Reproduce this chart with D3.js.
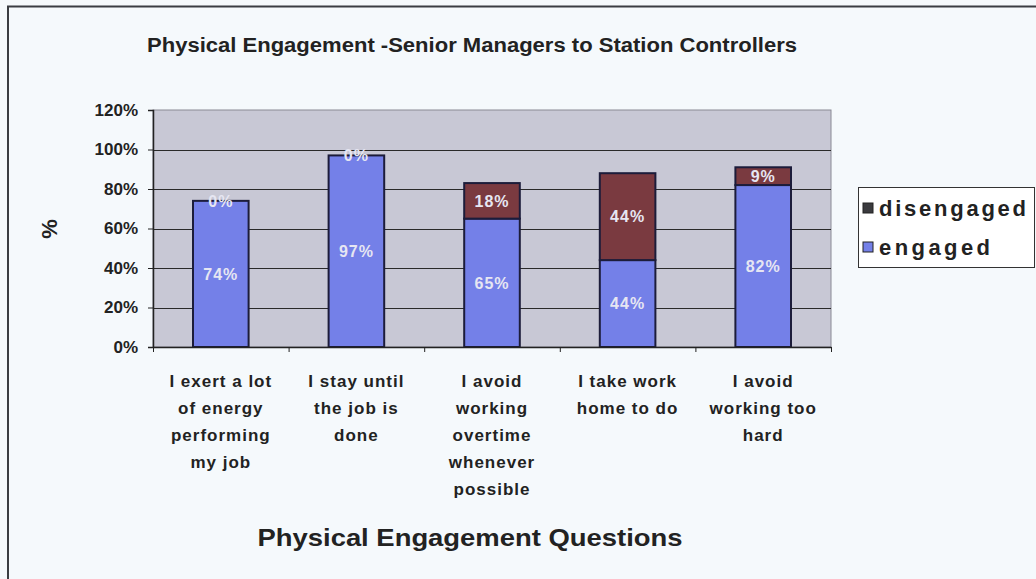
<!DOCTYPE html>
<html>
<head>
<meta charset="utf-8">
<script src="https://cdn.jsdelivr.net/npm/d3@7/dist/d3.min.js"></script>
<style>
  body { margin: 0; background: #f5f9fc; }
  svg { display: block; font-family: "Liberation Sans", Arial, sans-serif; }
</style>
</head>
<body>
<svg id="chart" width="1036" height="579"></svg>
<script>
// Survey questions (line breaks mark wrapped axis labels)
const categories = [
  "I exert a lot\nof energy\nperforming\nmy job",
  "I stay until\nthe job is\ndone",
  "I avoid\nworking\novertime\nwhenever\npossible",
  "I take work\nhome to do",
  "I avoid\nworking too\nhard"
];
const engaged    = [74, 97, 65, 44, 82];
const disengaged = [0, 0, 18, 44, 9];
const yTicks     = [0, 20, 40, 60, 80, 100, 120];
const seriesKeys = ["engaged", "disengaged"];
const legendOrder = ["disengaged", "engaged"];

const colors = { engaged: "#7480e8", disengaged: "#7a3a40" };

const svg = d3.select("#chart");
const W = 1036, H = 579;
const plot = { left: 153, right: 831, top: 110, bottom: 347 };

// Outer chart frame
svg.append("rect").attr("x", 0).attr("y", 0).attr("width", W).attr("height", H).attr("fill", "#f5f9fc");
svg.append("path")
  .attr("d", `M8,${H} L8,6.5 L${W},6.5`)
  .attr("fill", "none").attr("stroke", "#3a3d42").attr("stroke-width", 2);

const rows = categories.map((c, i) => ({ cat: c, engaged: engaged[i], disengaged: disengaged[i] }));

const x = d3.scaleBand().domain(categories).range([plot.left, plot.right])
  .paddingInner(0.59).paddingOuter(0.295);
const y = d3.scaleLinear().domain([0, 120]).range([plot.bottom, plot.top]);

// Plot background
svg.append("rect")
  .attr("x", plot.left).attr("y", plot.top)
  .attr("width", plot.right - plot.left).attr("height", plot.bottom - plot.top)
  .attr("fill", "#c8c8d5").attr("stroke", "#8a8a94").attr("stroke-width", 1);

// Horizontal gridlines
svg.append("g").selectAll("line").data(yTicks.filter(d => d > 0 && d < 120)).join("line")
  .attr("x1", plot.left).attr("x2", plot.right)
  .attr("y1", d => Math.round(y(d)) + 0.5).attr("y2", d => Math.round(y(d)) + 0.5)
  .attr("stroke", "#2a2a2a").attr("stroke-width", 1);

// Stacked bars
const stacked = d3.stack().keys(seriesKeys)(rows);
const layers = svg.append("g").selectAll("g").data(stacked).join("g")
  .attr("fill", d => colors[d.key]);
layers.selectAll("rect").data(d => d.filter(s => s[1] - s[0] > 0)).join("rect")
  .attr("x", d => x(d.data.cat))
  .attr("width", x.bandwidth())
  .attr("y", d => y(d[1]))
  .attr("height", d => y(d[0]) - y(d[1]))
  .attr("stroke", "#1c1c3a").attr("stroke-width", 2);

// Segment value labels
const labels = svg.append("g")
  .attr("font-size", 16).attr("font-weight", "bold").attr("fill", "#e6e6f2")
  .attr("text-anchor", "middle");
stacked.forEach(layer => {
  layer.forEach((s, i) => {
    const v = layer.key === "engaged" ? engaged[i] : disengaged[i];
    labels.append("text")
      .attr("x", x(s.data.cat) + x.bandwidth() / 2)
      .attr("y", y((s[0] + s[1]) / 2))
      .attr("dy", "0.36em")
      .attr("letter-spacing", 1)
      .text(v + "%");
  });
});

// Y axis
const yAxis = svg.append("g")
  .attr("transform", `translate(${plot.left},0)`)
  .call(d3.axisLeft(y).tickValues(yTicks).tickFormat(d => d + "%").tickSize(5).tickPadding(10));
yAxis.select(".domain").attr("stroke", "#222").attr("stroke-width", 1.5);
yAxis.selectAll(".tick line").attr("stroke", "#222");
yAxis.selectAll(".tick text")
  .attr("font-family", "Liberation Sans, Arial, sans-serif")
  .attr("font-size", 17).attr("font-weight", "bold").attr("fill", "#222");

// X axis with ticks at category boundaries
const xb = d3.scaleLinear().domain([0, categories.length]).range([plot.left, plot.right]);
const xAxis = svg.append("g")
  .attr("transform", `translate(0,${plot.bottom})`)
  .call(d3.axisBottom(xb).tickValues(d3.range(categories.length + 1)).tickFormat("").tickSize(5).tickSizeOuter(0));
xAxis.select(".domain").attr("stroke", "#222").attr("stroke-width", 1.5);
xAxis.selectAll(".tick line").attr("stroke", "#222");

// Category labels
const catG = svg.append("g")
  .attr("font-size", 17).attr("font-weight", "bold").attr("fill", "#222")
  .attr("text-anchor", "middle");
categories.forEach(c => {
  const t = catG.append("text")
    .attr("x", x(c) + x.bandwidth() / 2)
    .attr("y", 387)
    .attr("letter-spacing", 1);
  c.split("\n").forEach((line, k) => {
    t.append("tspan").attr("x", x(c) + x.bandwidth() / 2).attr("dy", k ? 27 : 0).text(line);
  });
});

// Titles
svg.append("text")
  .attr("x", 472).attr("y", 52)
  .attr("text-anchor", "middle").attr("font-size", 20).attr("font-weight", "bold").attr("fill", "#222")
  .attr("textLength", 650).attr("lengthAdjust", "spacingAndGlyphs")
  .text("Physical Engagement -Senior Managers to Station Controllers");

svg.append("text")
  .attr("x", 470).attr("y", 546)
  .attr("text-anchor", "middle").attr("font-size", 24).attr("font-weight", "bold").attr("fill", "#222")
  .attr("textLength", 425).attr("lengthAdjust", "spacingAndGlyphs")
  .text("Physical Engagement Questions");

svg.append("text")
  .attr("transform", "translate(57,229) rotate(-90)")
  .attr("text-anchor", "middle").attr("font-size", 22).attr("font-weight", "bold").attr("fill", "#222")
  .text("%");

// Legend
const lg = svg.append("g").attr("transform", "translate(858,187)");
lg.append("rect").attr("x", 0.5).attr("y", 0.5).attr("width", 176).attr("height", 80)
  .attr("fill", "#ffffff").attr("stroke", "#333").attr("stroke-width", 1);
legendOrder.forEach((k, i) => {
  const cy = 21 + i * 39;
  lg.append("rect").attr("x", 5).attr("y", cy - 5).attr("width", 10).attr("height", 10)
    .attr("fill", k === "disengaged" ? "#3a3a3e" : colors[k]).attr("stroke", "#222").attr("stroke-width", 1);
  lg.append("text").attr("x", 21).attr("y", cy).attr("dy", "0.35em")
    .attr("font-size", 22).attr("font-weight", "bold").attr("fill", "#222")
    .attr("textLength", k === "disengaged" ? 147 : 111).attr("lengthAdjust", "spacing")
    .text(k);
});
</script>
</body>
</html>
